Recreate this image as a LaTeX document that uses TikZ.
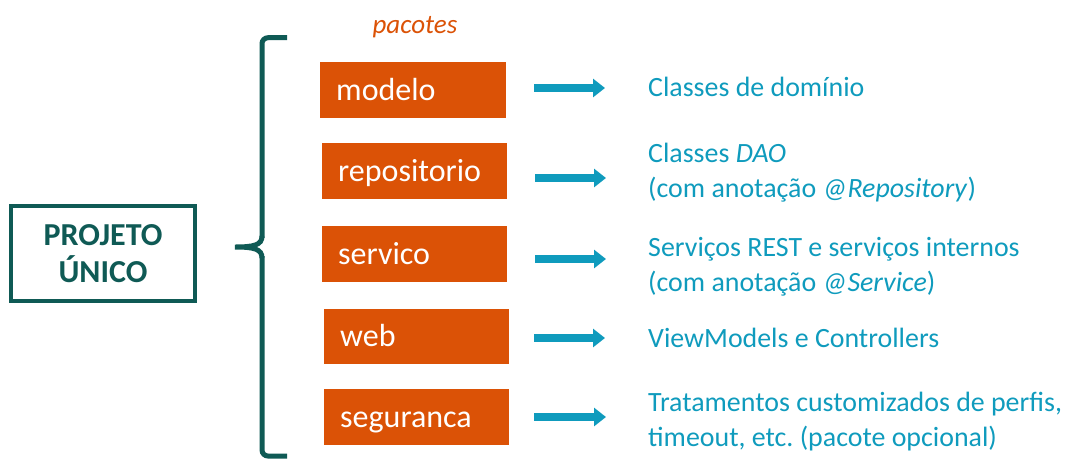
\documentclass[tikz,border=0pt]{standalone}
\usepackage{fontspec}
\setmainfont{Carlito}
\usetikzlibrary{arrows.meta}
\frenchspacing
\definecolor{teal}{HTML}{0F5A55}
\definecolor{pkgorange}{HTML}{DB5206}
\definecolor{lblue}{HTML}{0F9BBD}
\tikzset{
  pkgbox/.style={fill=pkgorange, draw=none, anchor=north west, inner xsep=16pt, inner ysep=0pt,
    text width=154pt, align=left, text height=26pt, text depth=6pt,
    minimum height=56pt, text=white, font=\fontsize{32}{38}\selectfont},
  desc/.style={anchor=base west, inner sep=0pt, text=lblue, font=\fontsize{27.9}{35.5}\selectfont},
  arr/.style={draw=lblue, line width=8pt, -{Triangle[length=12pt,width=18pt]}},
  projbox/.style={draw=teal, line width=4pt, minimum width=184pt, minimum height=95pt,
    text=teal, align=center, font=\bfseries\fontsize{32}{37}\selectfont, inner sep=0pt},
}
\begin{document}
\begin{tikzpicture}[x=1pt,y=-1pt]
\useasboundingbox (0,0) rectangle (1068,459);
% main box
\node[projbox] (proj) at (103,253.5) {PROJETO\\ÚNICO};
% brace
\draw[teal, line width=5pt, rounded corners=6pt]
  (287,37.7) -- (262,37.7) -- (262,238);
\draw[teal, line width=5pt]
  (262,236) .. controls (262,245) and (254,247) .. (235,247)
  .. controls (254,247) and (262,249) .. (262,258);
\draw[teal, line width=5pt, rounded corners=6pt]
  (262,256) -- (262,456) -- (287,456);
% label
\node[anchor=base, text=pkgorange, inner sep=0pt, font=\itshape\fontsize{27}{30}\selectfont] (pac) at (415,33) {pacotes};
% package boxes
\node[pkgbox, minimum width=186pt, text width=154pt] (modelo) at (320,62) {modelo};
\node[pkgbox, minimum width=185pt, text width=153pt] (repo) at (322,143) {repositorio};
\node[pkgbox, minimum width=185pt, text width=153pt] (serv) at (322,226) {servico};
\node[pkgbox, minimum width=185pt, text width=153pt, minimum height=55pt] (web) at (324,309) {web};
\node[pkgbox, minimum width=185pt, text width=153pt] (seg) at (324,389) {seguranca};
% descriptions
\node[desc] (t1) at (648,96) {Classes de domínio};
\node[desc] (t2) at (648,162) {\begin{tabular}[t]{@{}l@{}}Classes \textit{DAO}\\(com anotação \textit{@Repository})\end{tabular}};
\node[desc] (t3) at (648,256) {\begin{tabular}[t]{@{}l@{}}Serviços REST e serviços internos\\(com anotação \textit{@Service})\end{tabular}};
\node[desc] (t4) at (648,347) {ViewModels e Controllers};
\node[desc] (t5) at (648,411) {\begin{tabular}[t]{@{}l@{}}Tratamentos customizados de perfis,\\timeout, etc. (pacote opcional)\end{tabular}};
% arrow tips
\coordinate (e1) at (605,88);
\coordinate (e2) at (606,178);
\coordinate (e3) at (606,259);
\coordinate (e4) at (605,338);
\coordinate (e5) at (606,417);
\draw[arr] ([xshift=28pt]modelo.east |- e1) -- (e1);
\draw[arr] ([xshift=28pt]repo.east |- e2) -- (e2);
\draw[arr] ([xshift=28pt]serv.east |- e3) -- (e3);
\draw[arr] ([xshift=25pt]web.east |- e4) -- (e4);
\draw[arr] ([xshift=25pt]seg.east |- e5) -- (e5);
\end{tikzpicture}
\end{document}
